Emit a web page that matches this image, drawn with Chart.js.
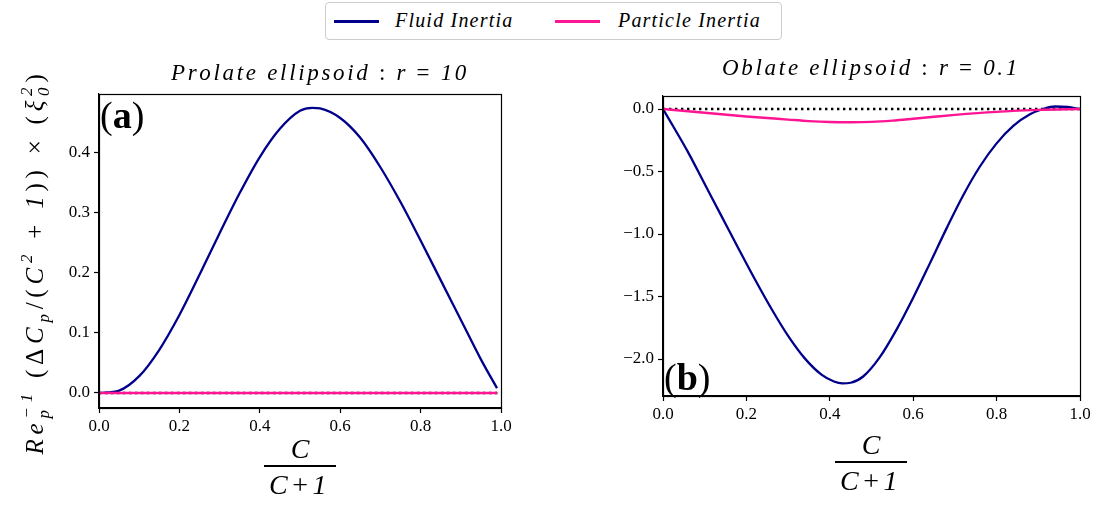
<!DOCTYPE html>
<html>
<head>
<meta charset="utf-8">
<script src="https://cdn.jsdelivr.net/npm/chart.js@4.4.0/dist/chart.umd.min.js"></script>
<style>
  body { margin: 0; background: #fff; width: 1099px; height: 512px; overflow: hidden; position: relative; font-family: 'Liberation Serif', serif; }
  #left { position: absolute; left: 0; top: 0; }
  #right { position: absolute; left: 560px; top: 0; }
  .legend { position: absolute; left: 325px; top: 2px; width: 455px; height: 36px; border: 1px solid #cccccc; border-radius: 4px; background: #fff; }
  .swatch { position: absolute; top: 17px; width: 45px; height: 2.5px; }
  .lab { position: absolute; top: 6px; font-style: italic; font-size: 20px; letter-spacing: 1.2px; color: #000; white-space: nowrap; }
</style>
</head>
<body>
<canvas id="left" width="560" height="512"></canvas>
<canvas id="right" width="539" height="512"></canvas>
<div class="legend">
  <div class="swatch" style="left:8px;background:#00008b"></div>
  <span class="lab" style="left:69px">Fluid Inertia</span>
  <div class="swatch" style="left:229px;background:#ff1493"></div>
  <span class="lab" style="left:292px">Particle Inertia</span>
</div>
<script>
// ----- data -----
const xTicks = [0, 0.2, 0.4, 0.6, 0.8, 1.0];
const prolateYTicks = [0, 0.1, 0.2, 0.3, 0.4];
const oblateYTicks = [0, -0.5, -1.0, -1.5, -2.0];

// prolate, r = 10
const prolateC = [0, 0.05, 0.10, 0.15, 0.20, 0.25, 0.30, 0.35, 0.40, 0.45, 0.50, 0.53, 0.55, 0.60, 0.65, 0.70, 0.75, 0.80, 0.85, 0.90, 0.95, 0.99];
const prolateFluid = [0, 0.004, 0.028, 0.072, 0.13, 0.197, 0.266, 0.333, 0.393, 0.44, 0.47, 0.475, 0.474, 0.458, 0.425, 0.376, 0.318, 0.254, 0.188, 0.122, 0.056, 0.008];
const prolateParticle = [0, 0, 0, 0, 0, 0, 0, 0, 0, 0, 0, 0, 0, 0, 0, 0, 0, 0, 0, 0, 0, 0];

// oblate, r = 0.1
const oblateC = [0, 0.03, 0.06, 0.10, 0.14, 0.18, 0.22, 0.26, 0.30, 0.34, 0.38, 0.41, 0.43, 0.45, 0.48, 0.52, 0.56, 0.60, 0.64, 0.68, 0.72, 0.76, 0.80, 0.84, 0.88, 0.91, 0.94, 0.97, 1.0];
const oblateFluid = [0, -0.17, -0.345, -0.6, -0.855, -1.11, -1.36, -1.598, -1.815, -1.995, -2.125, -2.18, -2.195, -2.19, -2.14, -1.985, -1.765, -1.51, -1.235, -0.955, -0.69, -0.46, -0.275, -0.135, -0.042, -0.002, 0.02, 0.016, 0];
const oblateParticleC = [0, 0.1, 0.2, 0.3, 0.35, 0.4, 0.45, 0.5, 0.55, 0.6, 0.65, 0.7, 0.8, 0.9, 1.0];
const oblateParticle = [0, -0.03, -0.06, -0.085, -0.097, -0.104, -0.106, -0.103, -0.093, -0.078, -0.062, -0.047, -0.023, -0.007, 0];

// dotted reference line y = 0
const zeroLineC = [0, 1];
const zeroLine = [0, 0];

const BLUE = '#00008b';
const PINK = '#ff1493';
const SERIF = "'Liberation Serif', serif";

function pts(xs, ys) {
  return xs.map((x, i) => ({ x: x, y: ys[i] }));
}

function fmt(v) {
  return (v < 0 ? '\u2212' : '') + Math.abs(v).toFixed(1);
}

// text runs with sub/superscripts: { t, size, style, dy, stay }
function runFont(r) {
  return (r.style || '') + ' ' + r.size + 'px ' + SERIF;
}
function runsWidth(ctx, runs) {
  let w = 0;
  runs.forEach(r => {
    ctx.font = runFont(r);
    if (!r.stay) for (const ch of r.t) w += ctx.measureText(ch).width;
  });
  return w;
}
function drawRuns(ctx, runs, cx, y, target) {
  const natural = runsWidth(ctx, runs);
  let chars = 0;
  runs.forEach(r => { if (!r.stay) chars += r.t.length; });
  const gap = target ? (target - natural) / chars : 0;
  let x = cx - (natural + gap * chars) / 2;
  ctx.textAlign = 'left';
  ctx.textBaseline = 'alphabetic';
  ctx.fillStyle = '#000';
  runs.forEach(r => {
    ctx.font = runFont(r);
    let px = x;
    for (const ch of r.t) {
      ctx.fillText(ch, px, y + (r.dy || 0));
      px += ctx.measureText(ch).width + gap;
    }
    if (!r.stay) x = px;
  });
}

function drawFraction(ctx, cx, yTop) {
  ctx.fillStyle = '#000';
  ctx.textAlign = 'center';
  ctx.font = 'italic 28px ' + SERIF;
  ctx.fillText('C', cx, yTop);
  ctx.fillRect(cx - 36, yTop + 7, 72, 2);
  drawRuns(ctx, [
    { t: 'C', size: 28, style: 'italic' },
    { t: '+', size: 28, style: '' },
    { t: '1', size: 28, style: 'italic' }
  ], cx, yTop + 36, 62);
}

function drawPanelTag(ctx, x, y, letter) {
  ctx.fillStyle = '#000';
  ctx.textAlign = 'left';
  ctx.font = '38px ' + SERIF;
  ctx.fillText('(', x, y);
  let px = x + ctx.measureText('(').width;
  ctx.font = 'bold 38px ' + SERIF;
  ctx.fillText(letter, px, y);
  px += ctx.measureText(letter).width;
  ctx.font = '38px ' + SERIF;
  ctx.fillText(')', px, y);
}

const framePlugin = {
  id: 'frame',
  afterDraw(chart, args, opts) {
    const ctx = chart.ctx;
    const a = chart.chartArea;
    ctx.save();
    ctx.strokeStyle = '#000';
    ctx.lineWidth = 1.2;
    ctx.strokeRect(Math.round(a.left) + 0.5, Math.round(a.top) + 0.5, Math.round(a.right - a.left), Math.round(a.bottom - a.top));
    opts.draw(ctx, a);
    ctx.restore();
  }
};

function makeChart(id, o) {
  return new Chart(document.getElementById(id), {
    type: 'line',
    data: {
      datasets: [
        { label: 'Particle Inertia', data: pts(o.pc, o.pv), borderColor: PINK, borderWidth: 2.5, pointRadius: 0, cubicInterpolationMode: 'monotone', order: 0 },
        { label: 'Fluid Inertia', data: pts(o.fc, o.fv), borderColor: BLUE, borderWidth: 2.3, pointRadius: 0, cubicInterpolationMode: 'monotone', order: 1 },
        { label: 'zero', data: pts(zeroLineC, zeroLine), borderColor: '#000', borderWidth: 2.6, borderDash: [2.4, 3.6], pointRadius: 0, order: 2 }
      ]
    },
    options: {
      responsive: false,
      animation: false,
      events: [],
      layout: { padding: o.pad },
      plugins: {
        legend: { display: false },
        tooltip: { enabled: false },
        frame: { draw: o.draw }
      },
      scales: {
        x: {
          type: 'linear', min: 0, max: 1,
          afterBuildTicks: s => { s.ticks = xTicks.map(v => ({ value: v })); },
          afterFit: s => { s.height = 30; },
          ticks: { callback: fmt, font: { family: SERIF, size: 17 }, color: '#000', padding: 3, maxRotation: 0, autoSkip: false },
          grid: { drawOnChartArea: false, color: '#000', tickLength: 5, tickWidth: 1.2 },
          border: { display: true, color: '#000', width: 1.2 }
        },
        y: {
          type: 'linear', min: o.ymin, max: o.ymax,
          afterBuildTicks: s => { s.ticks = o.yTicks.map(v => ({ value: v })); },
          afterFit: s => { s.width = o.yw; },
          ticks: { callback: fmt, font: { family: SERIF, size: 17 }, color: '#000', padding: 4, autoSkip: false },
          grid: { drawOnChartArea: false, color: '#000', tickLength: 5, tickWidth: 1.2 },
          border: { display: true, color: '#000', width: 1.2 }
        }
      }
    },
    plugins: [framePlugin]
  });
}

// left panel: prolate ellipsoid
makeChart('left', {
  pc: prolateC, pv: prolateParticle, fc: prolateC, fv: prolateFluid,
  ymin: -0.025, ymax: 0.498, yTicks: prolateYTicks, yw: 99,
  pad: { left: 0, right: 59, top: 94, bottom: 74 },
  draw(ctx, a) {
    drawRuns(ctx, [
      { t: 'Prolate ellipsoid', size: 23, style: 'italic' },
      { t: ' : ', size: 23, style: '' },
      { t: 'r', size: 23, style: 'italic' },
      { t: ' = ', size: 23, style: '' },
      { t: '10', size: 23, style: 'italic' }
    ], 320, 80, 298);
    drawPanelTag(ctx, a.left + 1, 128, 'a');
    drawFraction(ctx, 300, 458);
    // rotated y label
    ctx.save();
    ctx.translate(43, 262);
    ctx.rotate(-Math.PI / 2);
    drawRuns(ctx, [
      { t: 'Re', size: 25, style: 'italic' },
      { t: 'p', size: 17, style: 'italic', dy: 6, stay: true },
      { t: '\u22121', size: 17, style: 'italic', dy: -11 },
      { t: ' (', size: 25, style: '' },
      { t: '\u0394', size: 25, style: '' },
      { t: 'C', size: 25, style: 'italic' },
      { t: 'p', size: 17, style: 'italic', dy: 6 },
      { t: '/(', size: 25, style: '' },
      { t: 'C', size: 25, style: 'italic' },
      { t: '2', size: 17, style: 'italic', dy: -11 },
      { t: ' + ', size: 25, style: '' },
      { t: '1', size: 25, style: 'italic' },
      { t: ')) ', size: 25, style: '' },
      { t: '\u00d7', size: 25, style: '' },
      { t: ' (', size: 25, style: '' },
      { t: '\u03be', size: 25, style: 'italic' },
      { t: '2', size: 17, style: 'italic', dy: -11, stay: true },
      { t: '0', size: 17, style: 'italic', dy: 6 },
      { t: ')', size: 25, style: '' }
    ], 0, 0, 385);
    ctx.restore();
  }
});

// right panel: oblate ellipsoid
makeChart('right', {
  pc: oblateParticleC, pv: oblateParticle, fc: oblateC, fv: oblateFluid,
  ymin: -2.296, ymax: 0.104, yTicks: oblateYTicks, yw: 103,
  pad: { left: 0, right: 19, top: 96, bottom: 86 },
  draw(ctx, a) {
    drawRuns(ctx, [
      { t: 'Oblate ellipsoid', size: 23, style: 'italic' },
      { t: ' : ', size: 23, style: '' },
      { t: 'r', size: 23, style: 'italic' },
      { t: ' = ', size: 23, style: '' },
      { t: '0.1', size: 23, style: 'italic' }
    ], 311, 75, 298);
    drawPanelTag(ctx, a.left + 1, 390, 'b');
    drawFraction(ctx, 311, 454);
  }
});
</script>
</body>
</html>
